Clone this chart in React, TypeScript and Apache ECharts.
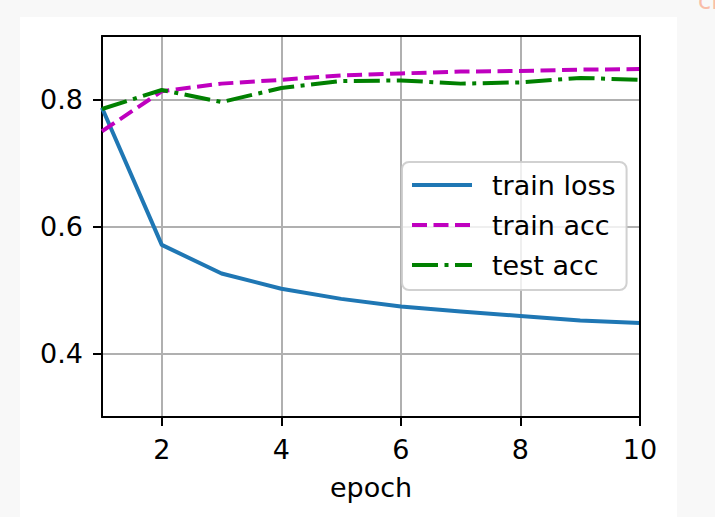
import React, { useEffect, useRef } from "react";
import * as echarts from "echarts";

const epochs = [1, 2, 3, 4, 5, 6, 7, 8, 9, 10];
const trainLoss = [0.787, 0.571, 0.526, 0.502, 0.486, 0.474, 0.466, 0.459, 0.452, 0.448];
const trainAcc = [0.750, 0.813, 0.825, 0.831, 0.838, 0.841, 0.844, 0.845, 0.847, 0.848];
const testAcc = [0.785, 0.815, 0.796, 0.818, 0.829, 0.830, 0.825, 0.827, 0.834, 0.831];
const xTicks = [2, 4, 6, 8, 10];
const yTicks = [0.4, 0.6, 0.8];
const seriesNames = ["train loss", "train acc", "test acc"];

const FONT = "DejaVu Sans";

export default function App() {
  const ref = useRef<HTMLDivElement>(null);
  useEffect(() => {
    if (!ref.current) return;
    const chart = echarts.init(ref.current, undefined, { renderer: "svg" });
    const pair = (ys: number[]) => epochs.map((e, i) => [e, ys[i]]);
    chart.setOption({
      animation: false,
      backgroundColor: "transparent",
      textStyle: { fontFamily: FONT },
      grid: { left: 102, top: 36, width: 538, height: 381, containLabel: false },
      xAxis: [
        {
          type: "value",
          min: 1,
          max: 10,
          name: "epoch",
          nameLocation: "middle",
          nameGap: 57,
          nameTextStyle: { fontSize: 27, color: "#000", fontFamily: FONT },
          axisLine: { show: true, lineStyle: { color: "#000", width: 2 } },
          axisTick: { show: true, inside: false, length: 9, lineStyle: { color: "#000", width: 2 }, customValues: xTicks },
          axisLabel: { show: true, margin: 19, fontSize: 27, color: "#000", fontFamily: FONT, customValues: xTicks, formatter: (v: number) => String(v) },
          splitLine: { show: true, lineStyle: { color: "#b0b0b0", width: 2 } },
        },
        {
          type: "value",
          position: "top",
          min: 1,
          max: 10,
          z: 10,
          axisLine: { show: true, onZero: false, lineStyle: { color: "#000", width: 2 } },
          axisTick: { show: false },
          axisLabel: { show: false },
          splitLine: { show: false },
        },
      ],
      yAxis: [
        {
          type: "value",
          min: 0.3,
          max: 0.9,
          axisLine: { show: true, onZero: false, lineStyle: { color: "#000", width: 2 } },
          axisTick: { show: true, inside: false, length: 9, lineStyle: { color: "#000", width: 2 }, customValues: yTicks },
          axisLabel: { show: true, margin: 19, fontSize: 27, color: "#000", fontFamily: FONT, customValues: yTicks, formatter: (v: number) => v.toFixed(1) },
          splitLine: { show: true, lineStyle: { color: "#b0b0b0", width: 2 } },
        },
        {
          type: "value",
          position: "right",
          min: 0.3,
          max: 0.9,
          z: 10,
          axisLine: { show: true, onZero: false, lineStyle: { color: "#000", width: 2 } },
          axisTick: { show: false },
          axisLabel: { show: false },
          splitLine: { show: false },
        },
      ],
      legend: {
        data: seriesNames,
        orient: "vertical",
        left: 402,
        top: 162,
        padding: [9, 11, 11, 8],
        itemGap: 12,
        itemWidth: 60,
        itemHeight: 14,
        backgroundColor: "rgba(255,255,255,0.8)",
        borderColor: "rgba(204,204,204,0.9)",
        borderWidth: 2,
        borderRadius: 7,
        selectedMode: false,
        itemStyle: { opacity: 0, borderWidth: 0 },
        lineStyle: { width: 4, type: "inherit" },
        textStyle: { fontSize: 27, color: "#000", fontFamily: FONT, lineHeight: 28, padding: [0, 0, 0, 15] },
      },
      graphic: [
        {
          type: "text",
          left: 698,
          top: -11,
          style: { text: "ch", fill: "#f9bda8", fontSize: 24, fontFamily: FONT },
        },
      ],
      series: [
        {
          name: seriesNames[0],
          type: "line",
          data: pair(trainLoss),
          showSymbol: false,
          symbol: "none",
          lineStyle: { color: "#1f77b4", width: 4, join: "round" },
          itemStyle: { color: "#1f77b4" },
          z: 3,
        },
        {
          name: seriesNames[1],
          type: "line",
          data: pair(trainAcc),
          showSymbol: false,
          symbol: "none",
          lineStyle: { color: "#bf00bf", width: 4, type: [15, 6.5], cap: "butt", join: "round" },
          itemStyle: { color: "#bf00bf" },
          z: 4,
        },
        {
          name: seriesNames[2],
          type: "line",
          data: pair(testAcc),
          showSymbol: false,
          symbol: "none",
          lineStyle: { color: "#008000", width: 4, type: [26, 6.5, 4, 6.5], cap: "butt", join: "round" },
          itemStyle: { color: "#008000" },
          z: 5,
        },
      ],
    });
    return () => chart.dispose();
  }, []);

  return (
    <div style={{ position: "fixed", left: 0, top: 0, width: 715, height: 517, background: "#f8f8f8" }}>
      <div style={{ position: "absolute", left: 20, top: 17, width: 657, height: 500, background: "#ffffff" }} />
      <div ref={ref} style={{ position: "absolute", left: 0, top: 0, width: 715, height: 517 }} />
    </div>
  );
}
